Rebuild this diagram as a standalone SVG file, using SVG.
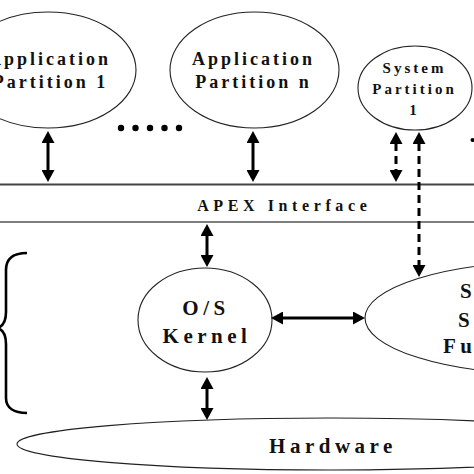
<svg xmlns="http://www.w3.org/2000/svg" width="474" height="474" viewBox="0 0 474 474">
<defs>
<style>
.node ellipse{fill:#fff;stroke:#222;stroke-width:1.1}
.t{font-family:"Liberation Serif","Times New Roman",serif;font-weight:bold;fill:#111;text-anchor:middle}
.t18{font-size:18px;letter-spacing:3px}
.t15{font-size:15px;letter-spacing:3px}
.t21{font-size:21px;letter-spacing:4.5px}
.arr{stroke:#000;stroke-width:3;fill:none;marker-start:url(#ah);marker-end:url(#ah)}
.dash{stroke-dasharray:8 5}
</style>
<marker id="ah" viewBox="0 0 12 13" refX="1" refY="6.5" markerWidth="12" markerHeight="13" markerUnits="userSpaceOnUse" orient="auto-start-reverse">
<path d="M0,0 L12,6.5 L0,13 z" fill="#000"/>
</marker>
</defs>
<rect width="474" height="474" fill="#fff"/>

<g id="apex-lines">
<line x1="0" y1="184.5" x2="474" y2="184.5" stroke="#444" stroke-width="2"/>
<line x1="0" y1="222" x2="474" y2="222" stroke="#555" stroke-width="1.5"/>
<text class="t" x="284.3" y="211" style="font-size:16px;letter-spacing:4.6px">APEX Interface</text>
</g>

<g id="app1" class="node">
<ellipse cx="48" cy="70" rx="88" ry="58"/>
<text class="t t18" x="49.5" y="65">Application</text>
<text class="t t18" x="50.5" y="88">Partition 1</text>
</g>

<g id="appn" class="node">
<ellipse cx="254.5" cy="70" rx="84.5" ry="58"/>
<text class="t t18" x="253.5" y="65">Application</text>
<text class="t t18" x="253.5" y="88">Partition n</text>
</g>

<g id="sys1" class="node">
<ellipse cx="415" cy="88" rx="57" ry="42"/>
<text class="t t15" x="414.5" y="73">System</text>
<text class="t t15" x="414.5" y="94">Partition</text>
<text class="t t15" x="414.5" y="115">1</text>
</g>

<g id="kernel" class="node">
<ellipse cx="205" cy="320" rx="67" ry="52"/>
<text class="t t21" x="206" y="315">O/S</text>
<text class="t t21" x="207" y="343">Kernel</text>
</g>

<g id="sysfunc" class="node">
<ellipse cx="546" cy="318" rx="181" ry="56"/>
<text class="t" x="460" y="298" style="text-anchor:start;font-size:21px">S</text>
<text class="t" x="458" y="327" style="text-anchor:start;font-size:21px">S</text>
<text class="t t21" x="443" y="353" style="text-anchor:start">Fu</text>
</g>

<g id="hardware" class="node">
<ellipse cx="330" cy="444" rx="313" ry="26"/>
<text class="t t21" x="333" y="453">Hardware</text>
</g>

<g id="ellipsis" fill="#000">
<circle cx="121" cy="128" r="3.2"/>
<circle cx="135.5" cy="128" r="3.2"/>
<circle cx="150" cy="128" r="3.2"/>
<circle cx="164.5" cy="128" r="3.2"/>
<circle cx="179" cy="128" r="3.2"/>
<circle cx="472.5" cy="140" r="2"/>
</g>

<g id="brace">
<path d="M27,253 C14,253 6,258 6,270 L6,312 C6,322 3,326 -2,328 C3,330 6,334 6,344 L6,398 C6,408 14,413 27,413" fill="none" stroke="#000" stroke-width="2.6"/>
</g>

<g id="connectors">
<line class="arr" x1="48" y1="142" x2="48" y2="171"/>
<line class="arr" x1="253" y1="142" x2="253" y2="171"/>
<line class="arr dash" x1="396" y1="143" x2="396" y2="171"/>
<line class="arr dash" x1="419" y1="143" x2="419" y2="266"/>
<line class="arr" x1="207" y1="235" x2="207" y2="256"/>
<line class="arr" x1="282" y1="318" x2="354" y2="318"/>
<line class="arr" x1="207" y1="388" x2="207" y2="409"/>
</g>
</svg>
